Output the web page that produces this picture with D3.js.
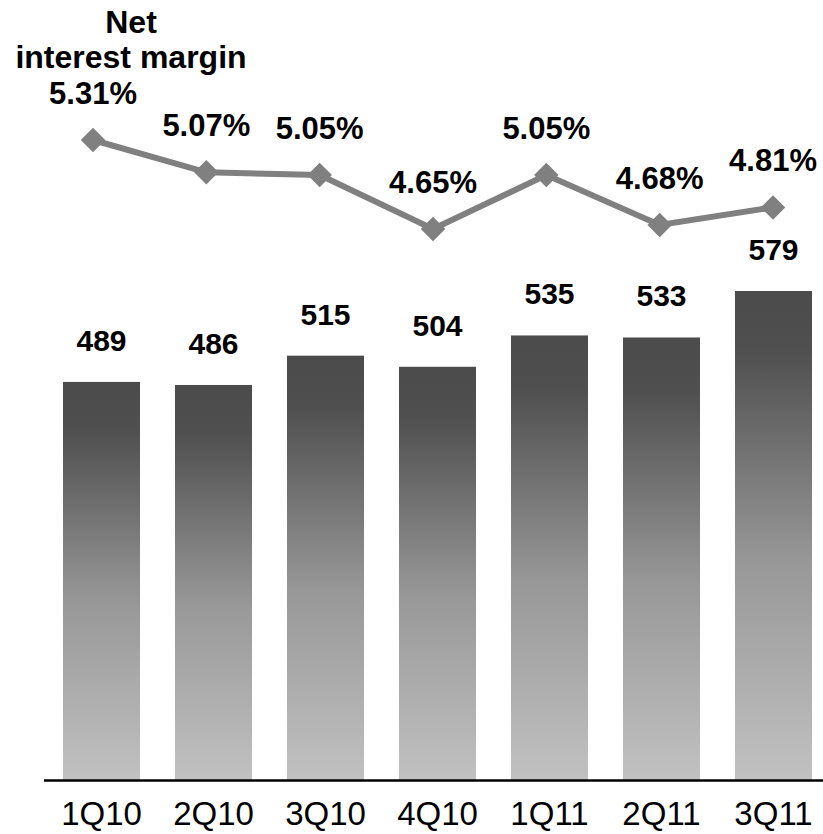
<!DOCTYPE html>
<html><head><meta charset="utf-8">
<script src="https://cdn.jsdelivr.net/npm/d3@7"></script>
<style>body{margin:0;background:#fff}svg{display:block}text{font-family:"Liberation Sans",Arial,sans-serif}</style>
</head><body>
<script>
const categories = ["1Q10","2Q10","3Q10","4Q10","1Q11","2Q11","3Q11"];
const revenue = [489,486,515,504,535,533,579];
const nim = [5.31,5.07,5.05,4.65,5.05,4.68,4.81];
const nimLabels = ["5.31%","5.07%","5.05%","4.65%","5.05%","4.68%","4.81%"];
const titleLines = ["Net","interest margin"];

const W=823,H=834;
const svg=d3.select("body").append("svg").attr("width",W).attr("height",H);
const defs=svg.append("defs");
const g=defs.append("linearGradient").attr("id","barGrad").attr("x1",0).attr("y1",0).attr("x2",0).attr("y2",1);
g.append("stop").attr("offset","0").attr("stop-color","#4b4b4b");
g.append("stop").attr("offset","0.12").attr("stop-color","#4f4f4f");
g.append("stop").attr("offset","0.55").attr("stop-color","#979797");
g.append("stop").attr("offset","1").attr("stop-color","#c1c1c1");

const x=d3.scaleBand().domain(categories).range([45.5,829.5]).paddingInner(0.3125).paddingOuter(0.15625);
const y=d3.scaleLinear().domain([95,579]).range([780,291]);
const xl=d3.scalePoint().domain(categories).range([93,773]);
const yl=d3.scaleLinear().domain([4.65,5.31]).range([229,140]);

svg.append("g").selectAll("rect").data(categories).join("rect")
  .attr("x",d=>x(d)).attr("width",x.bandwidth())
  .attr("y",(d,i)=>y(revenue[i])).attr("height",(d,i)=>y(95)-y(revenue[i]))
  .attr("fill","url(#barGrad)");

svg.append("g").selectAll("text").data(categories).join("text")
  .attr("x",d=>x(d)+x.bandwidth()/2).attr("y",(d,i)=>y(revenue[i])-31)
  .attr("text-anchor","middle").attr("font-size",30).attr("font-weight","bold").attr("fill","#000")
  .text((d,i)=>revenue[i]);

// axis
const axis=svg.append("g").attr("transform","translate(0,780.5)")
  .call(d3.axisBottom(x).tickSize(0).tickPadding(21));
axis.select(".domain").remove();
axis.append("line").attr("x1",44).attr("x2",823).attr("y1",0).attr("y2",0).attr("stroke","#000").attr("stroke-width",2.5);
axis.selectAll(".tick text").attr("font-size",33).attr("fill","#000").attr("font-family","'Liberation Sans',Arial,sans-serif");

// line
const line=d3.line().x((d,i)=>xl(categories[i])).y(d=>yl(d));
svg.append("path").datum(nim).attr("d",line).attr("fill","none").attr("stroke","#808080").attr("stroke-width",6);
svg.append("g").selectAll("path").data(nim).join("path")
  .attr("d",d3.symbol(d3.symbolSquare,300)())
  .attr("transform",(d,i)=>`translate(${xl(categories[i])},${yl(d)}) rotate(45)`)
  .attr("fill","#808080");
svg.append("g").selectAll("text").data(nim).join("text")
  .attr("x",(d,i)=>xl(categories[i])).attr("y",d=>yl(d)-36)
  .attr("text-anchor","middle").attr("font-size",31).attr("font-weight","bold").attr("fill","#000")
  .text((d,i)=>nimLabels[i]);

svg.append("g").selectAll("text").data(titleLines).join("text")
  .attr("x",131).attr("y",(d,i)=>33+i*35)
  .attr("text-anchor","middle").attr("font-size",32).attr("font-weight","bold").attr("fill","#000")
  .text(d=>d);
</script>
</body></html>
